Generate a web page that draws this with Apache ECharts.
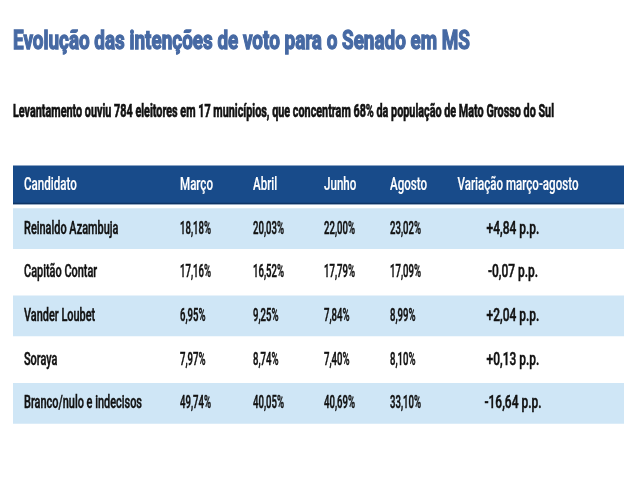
<!DOCTYPE html>
<html><head><meta charset="utf-8">
<script src="https://cdn.jsdelivr.net/npm/echarts@6/dist/echarts.min.js"></script>
<style>html,body{margin:0;padding:0;background:#fff}#c{width:640px;height:480px}</style>
</head><body><div id="c"></div>
<script>
// ---- data ----
const titleText = 'Evolução das intenções de voto para o Senado em MS';
const subtitleText = 'Levantamento ouviu 784 eleitores em 17 municípios, que concentram 68% da população de Mato Grosso do Sul';
const columns = ['Candidato', 'Março', 'Abril', 'Junho', 'Agosto', 'Variação março-agosto'];
const candidates = ['Reinaldo Azambuja', 'Capitão Contar', 'Vander Loubet', 'Soraya', 'Branco/nulo e indecisos'];
const marco = [18.18, 17.16, 6.95, 7.97, 49.74];
const abril = [20.03, 16.52, 9.25, 8.74, 40.05];
const junho = [22.00, 17.79, 7.84, 7.40, 40.69];
const agosto = [23.02, 17.09, 8.99, 8.10, 33.10];
const variacao = [4.84, -0.07, 2.04, 0.13, -16.64];

// ---- layout / style ----
const colX = [24, 180, 253, 324, 390, 513];      // text anchor per column (px)
const headX = [24, 180, 253, 324, 390, 518];
const TITLE_FONT = '700 26px Roboto';
const SUB_FONT = '700 19px Roboto';
const CELL_FONT = '500 18px Roboto';
const HEAD_FONT = '500 18px Roboto';
const mctx = document.createElement('canvas').getContext('2d');
function fit(text, font, w) { mctx.font = font; return w / mctx.measureText(text).width; }
const titleScale = fit(titleText, TITLE_FONT, 457);
const subScale = fit(subtitleText, SUB_FONT, 541);
const nameScale = fit('Branco/nulo e indecisos', CELL_FONT, 118);
const pctScale = fit('18,18%', CELL_FONT, 31);
const varScale = fit('-16,64 p.p.', CELL_FONT, 57);
const headScale = fit('Variação março-agosto', HEAD_FONT, 121);

const fmtPct = v => v.toFixed(2).replace('.', ',') + '%';
const fmtVar = v => (v >= 0 ? '+' : '-') + Math.abs(v).toFixed(2).replace('.', ',') + ' p.p.';

// build cells
const cells = [];
columns.forEach((c, i) => cells.push({ value: [headX[i], 0], txt: c, kind: 'head', align: i === 5 ? 'center' : 'left' }));
const monthCols = [marco, abril, junho, agosto];
candidates.forEach((name, r) => {
  cells.push({ value: [colX[0], r + 1], txt: name, kind: 'name', align: 'left' });
  monthCols.forEach((arr, k) => cells.push({ value: [colX[k + 1], r + 1], txt: fmtPct(arr[r]), kind: 'pct', align: 'left' }));
  cells.push({ value: [colX[5], r + 1], txt: fmtVar(variacao[r]), kind: 'var', align: 'center' });
});
const bands = [0, 1, 2, 3, 4, 5].map(r => ({ value: [13, r] }));

const chart = echarts.init(document.getElementById('c'), null, { renderer: 'canvas' });
chart.setOption({
  animation: false,
  backgroundColor: '#ffffff',
  grid: { left: 13, right: 16, top: 163, height: 262.2 },
  xAxis: { type: 'value', min: 13, max: 624, show: false },
  yAxis: { type: 'category', inverse: true, data: ['Cabeçalho'].concat(candidates), show: false },
  graphic: [
    { type: 'text', x: 13, y: 42, scaleX: titleScale,
      style: { text: titleText, font: TITLE_FONT, fill: '#4669a3', stroke: '#4669a3', lineWidth: 1.3,
               verticalAlign: 'middle', align: 'left' } },
    { type: 'text', x: 13, y: 112, scaleX: subScale,
      style: { text: subtitleText, font: SUB_FONT, fill: '#111111', stroke: '#111111', lineWidth: 0.7,
               verticalAlign: 'middle', align: 'left' } }
  ],
  series: [
    {
      type: 'custom', data: bands, silent: true, z: 1,
      renderItem(params, api) {
        const r = api.value(1);
        const c = api.coord([13, r]);
        const bw = api.size([0, 1])[1];
        const cs = params.coordSys;
        if (r === 0) {
          const top = c[1] - bw / 2 + 2.5, h = bw - 5;
          return { type: 'group', children: [
            { type: 'rect', shape: { x: cs.x, y: top, width: cs.width, height: h }, style: { fill: '#184b8a' } },
            { type: 'rect', shape: { x: cs.x, y: top + h - 1.5, width: cs.width, height: 1.5 }, style: { fill: '#0f3566' } }
          ] };
        }
        if (r % 2 === 1) {
          return { type: 'rect', shape: { x: cs.x, y: c[1] - bw / 2 + 1.5, width: cs.width, height: bw - 3 }, style: { fill: '#cfe6f6' } };
        }
        return null;
      }
    },
    {
      type: 'custom', data: cells, silent: true, z: 2,
      renderItem(params, api) {
        const cell = cells[params.dataIndex];
        const p = api.coord([api.value(0), api.value(1)]);
        const isHead = cell.kind === 'head';
        const s = isHead ? headScale : cell.kind === 'name' ? nameScale : cell.kind === 'pct' ? pctScale : varScale;
        const col = isHead ? '#ffffff' : '#111111';
        return {
          type: 'text', x: p[0], y: p[1] + 0.5, scaleX: s,
          style: { text: cell.txt, font: isHead ? HEAD_FONT : CELL_FONT, fill: col, stroke: col,
                   lineWidth: isHead ? 0.2 : 0.5, align: cell.align, verticalAlign: 'middle' }
        };
      }
    }
  ]
});
</script></body></html>
